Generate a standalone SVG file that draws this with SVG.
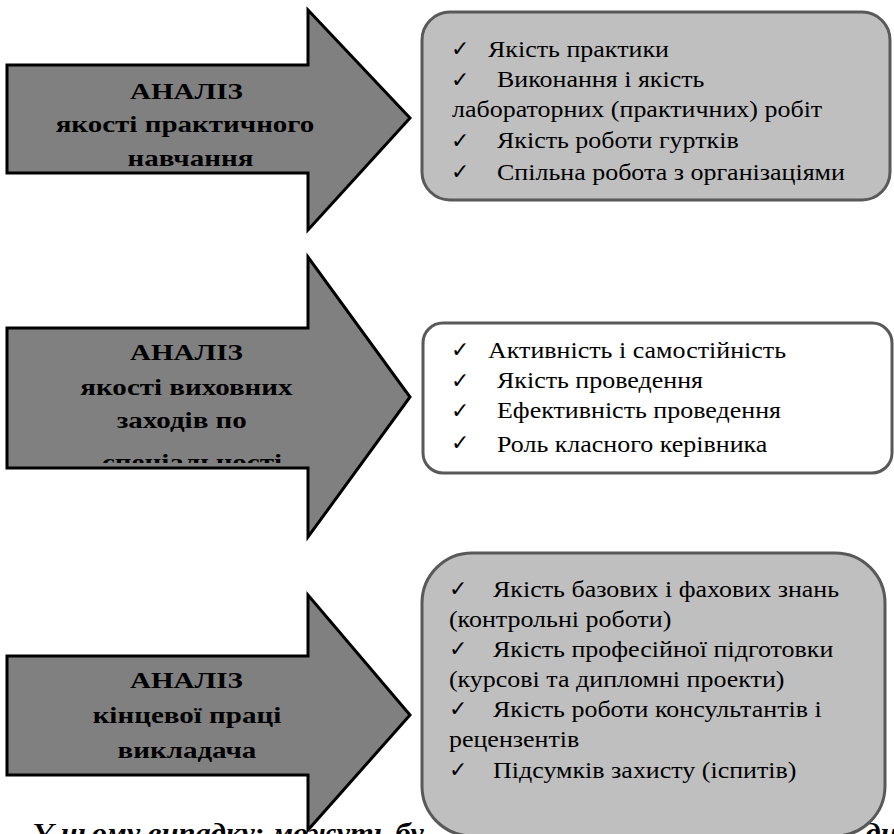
<svg xmlns="http://www.w3.org/2000/svg" width="894" height="834" viewBox="0 0 894 834">
<style>
.arrow{fill:#808080;stroke:#000;stroke-width:3;stroke-linejoin:miter}
.box1{fill:#bfbfbf;stroke:#595959;stroke-width:3}
.box2{fill:#fff;stroke:#595959;stroke-width:3}
.ht{font-family:'Liberation Serif','Times New Roman',serif;font-weight:bold;font-size:24px;fill:#000;text-anchor:middle}
.it{font-family:'Liberation Serif','Times New Roman',serif;font-size:23px;fill:#000}
.ck{font-family:'DejaVu Sans',sans-serif;font-weight:bold;font-size:22px;fill:#000}
.bt{font-family:'Liberation Serif','Times New Roman',serif;font-weight:bold;font-style:italic;font-size:27px;fill:#000}
</style>
<defs>
<clipPath id="clipA2"><rect x="0" y="300" width="420" height="163"/></clipPath>
<clipPath id="clipB2"><rect x="420" y="320" width="474" height="137"/></clipPath>
</defs>
<rect width="894" height="834" fill="#fff"/>
<g id="footer" transform="scale(1.13,1)">
<text class="bt" x="28.3" y="842">У цьому випадку: можуть бу</text>
<text class="bt" x="766" y="842">ди</text>
</g>
<g id="connectors"></g>
<g id="arrow1">
<polygon class="arrow" points="7,65 308,65 308,10 410,118 308,230 308,173 7,173"/>
<g transform="scale(1.21,1)">
<text class="ht" x="154.1" y="99">АНАЛІЗ</text>
<text class="ht" x="152.9" y="132">якості практичного</text>
<text class="ht" x="157.4" y="166">навчання</text>
</g>
</g>
<g id="box1">
<rect class="box1" x="422" y="12" width="468" height="188" rx="28" ry="28"/>
<text class="ck" x="451" y="56">✓</text>
<text class="ck" x="451" y="87">✓</text>
<text class="ck" x="451" y="148">✓</text>
<text class="ck" x="451" y="179">✓</text>
<g transform="scale(1.13,1)">
<text class="it" x="431.9" y="57">Якість практики</text>
<text class="it" x="439.8" y="87">Виконання і якість</text>
<text class="it" x="400" y="117">лабораторних (практичних) робіт</text>
<text class="it" x="439.8" y="148">Якість роботи гуртків</text>
<text class="it" x="439.8" y="180">Спільна робота з організаціями</text>
</g>
</g>
<g id="arrow2">
<polygon class="arrow" points="7,328 308,328 308,257 410,397 308,537 308,468 7,468"/>
<g clip-path="url(#clipA2)">
<g transform="scale(1.21,1)">
<text class="ht" x="154.1" y="360">АНАЛІЗ</text>
<text class="ht" x="154.1" y="395">якості виховних</text>
<text class="ht" x="150.2" y="428">заходів по</text>
<text class="ht" x="158.7" y="470">спеціальності</text>
</g>
</g>
</g>
<g id="box2">
<rect class="box2" x="423" y="323" width="469" height="150" rx="20" ry="20"/>
<g clip-path="url(#clipB2)">
<text class="ck" x="451" y="357">✓</text>
<text class="ck" x="451" y="388">✓</text>
<text class="ck" x="451" y="418">✓</text>
<text class="ck" x="451" y="450">✓</text>
<g transform="scale(1.13,1)">
<text class="it" x="431.9" y="358">Активність і самостійність</text>
<text class="it" x="439.8" y="388">Якість проведення</text>
<text class="it" x="439.8" y="418">Ефективність проведення</text>
<text class="it" x="439.8" y="452">Роль класного керівника</text>
</g>
</g>
</g>
<g id="arrow3">
<polygon class="arrow" points="7,656 308,656 308,595 410,715 308,830 308,775 7,775"/>
<g transform="scale(1.21,1)">
<text class="ht" x="154.1" y="688">АНАЛІЗ</text>
<text class="ht" x="154.5" y="723">кінцевої праці</text>
<text class="ht" x="154.5" y="758">викладача</text>
</g>
</g>
<g id="box3">
<rect class="box1" x="422" y="553" width="463" height="283" rx="50" ry="50"/>
<text class="ck" x="449" y="596">✓</text>
<text class="ck" x="449" y="656">✓</text>
<text class="ck" x="449" y="716">✓</text>
<text class="ck" x="449" y="777">✓</text>
<g transform="scale(1.13,1)">
<text class="it" x="436.3" y="597">Якість базових і фахових знань</text>
<text class="it" x="397.3" y="627">(контрольні роботи)</text>
<text class="it" x="436.3" y="657">Якість професійної підготовки</text>
<text class="it" x="397.3" y="687">(курсові та дипломні проекти)</text>
<text class="it" x="436.3" y="717">Якість роботи консультантів і</text>
<text class="it" x="397.3" y="747">рецензентів</text>
<text class="it" x="436.3" y="778">Підсумків захисту (іспитів)</text>
</g>
</g>
</svg>
